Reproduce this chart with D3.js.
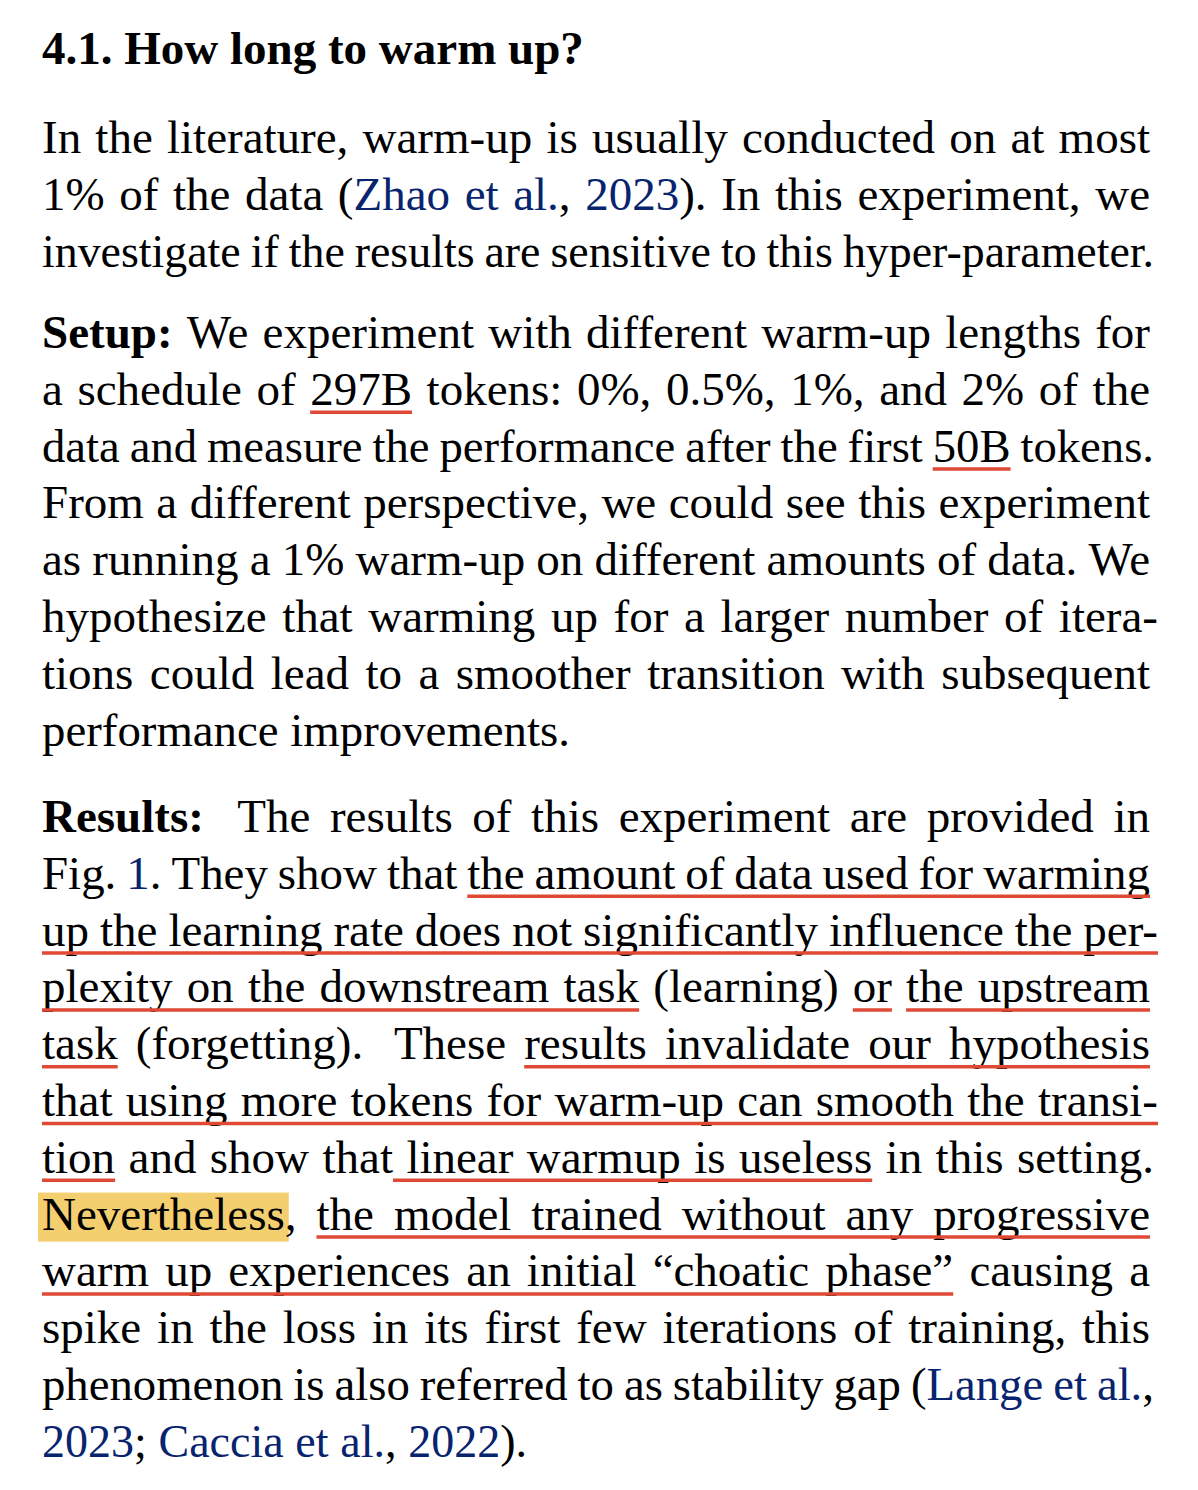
<!DOCTYPE html>
<html>
<head>
<meta charset="utf-8">
<script src="https://cdn.jsdelivr.net/npm/d3@7"></script>
<style>
  html, body { margin: 0; padding: 0; background: #ffffff; }
  svg { display: block; }
</style>
</head>
<body>
<script>
// ---------- Content (text lines with style flags: b=bold, l=link, u=underline, h=highlight) ----------
const headingText = "4.1. How long to warm up?";

const para1Lines = [
  [["In the literature, warm-up is usually conducted on at most", ""]],
  [["1% of the data (", ""], ["Zhao et al.", "l"], [", ", ""], ["2023", "l"], ["). In this experiment, we", ""]],
  [["investigate if the results are sensitive to this hyper-parameter.", ""]]
];

const para2Lines = [
  [["Setup:", "b"], [" We experiment with different warm-up lengths for", ""]],
  [["a schedule of ", ""], ["297B", "u"], [" tokens: 0%, 0.5%, 1%, and 2% of the", ""]],
  [["data and measure the performance after the first ", ""], ["50B", "u"], [" tokens.", ""]],
  [["From a different perspective, we could see this experiment", ""]],
  [["as running a 1% warm-up on different amounts of data. We", ""]],
  [["hypothesize that warming up for a larger number of itera-", ""]],
  [["tions could lead to a smoother transition with subsequent", ""]],
  [["performance improvements.", ""]]
];

const para3Lines = [
  [["Results:", "b"], ["  The results of this experiment are provided in", ""]],
  [["Fig. ", ""], ["1", "l"], [". They show that ", ""], ["the amount of data used for warming", "u"]],
  [["up the learning rate does not significantly influence the per-", "u"]],
  [["plexity on the downstream task", "u"], [" (learning) ", ""], ["or", "u"], [" ", ""], ["the upstream", "u"]],
  [["task", "u"], [" (forgetting).  These ", ""], ["results invalidate our hypothesis", "u"]],
  [["that using more tokens for warm-up can smooth the transi-", "u"]],
  [["tion", "u"], [" and show that", ""], [" linear warmup is useless", "u"], [" in this setting.", ""]],
  [["Nevertheless", "h"], [", ", ""], ["the model trained without any progressive", "u"]],
  [["warm up experiences an initial \u201Cchoatic phase\u201D", "u"], [" causing a", ""]],
  [["spike in the loss in its first few iterations of training, this", ""]],
  [["phenomenon is also referred to as stability gap (", ""], ["Lange et al.", "l"], [",", ""]],
  [["2023", "l"], ["; ", ""], ["Caccia et al.", "l"], [", ", ""], ["2022", "l"], [").", ""]]
];

const paragraphs = [para1Lines, para2Lines, para3Lines];
const justifyLastLine = [true, false, false];
const paragraphBaselines = [153, 348, 832];

// ---------- Layout constants ----------
const W = 1198, H = 1490;
const left = 42, right = 1150;
const lineHeight = 56.8;
const bodySize = 47, headingSize = 47;
const fontFamily = "'Liberation Serif', 'Times New Roman', Times, serif";
const colors = { text: "#000000", link: "#08246f", underline: "#e04a34", highlight: "#f4cf6f" };

const svg = d3.select("body").append("svg").attr("width", W).attr("height", H);
svg.append("rect").attr("width", W).attr("height", H).attr("fill", "#ffffff");

const gHi = svg.append("g");
const gText = svg.append("g").attr("font-family", fontFamily);
const gUl = svg.append("g");

const meas = svg.append("text").attr("font-family", fontFamily).attr("font-size", bodySize)
  .attr("visibility", "hidden").attr("x", 0).attr("y", -100);
function textWidth(t, bold) {
  meas.attr("font-weight", bold ? "bold" : "normal").text(t);
  return meas.node().getComputedTextLength();
}
const spaceW = textWidth("a a") - 2 * textWidth("a");
const minSpace = 0.85 * spaceW;

// Heading
gText.append("text")
  .attr("x", left).attr("y", 64)
  .attr("font-size", headingSize).attr("font-weight", "bold")
  .attr("fill", colors.text)
  .text(headingText);

function layoutLine(segs, baseline, justify, maxRight) {
  const items = [];
  segs.forEach(([txt, st]) => {
    txt.split(/( +)/).forEach(p => {
      if (p === "") return;
      if (/^ +$/.test(p)) items.push({ sp: true, n: p.length, st });
      else items.push({ sp: false, t: p, st, w: textWidth(p, st.includes("b")) });
    });
  });
  const words = items.filter(d => !d.sp);
  const wordsW = d3.sum(words, d => d.w);
  const spaces = items.filter(d => d.sp);
  spaces.forEach(s => { s.weight = s.n > 1 ? 1.7 : 1; });
  const totalWeight = d3.sum(spaces, d => d.weight);
  const lastWord = words.slice(-1)[0];
  const lastChar = lastWord ? lastWord.t.slice(-1) : "";
  const protrude = lastChar === "-" ? 8 : (lastChar === "." || lastChar === ",") ? 4 : 0;
  const avail = right + protrude - left;
  let unit = spaceW;
  let scale = 1;
  if (justify && totalWeight > 0) {
    unit = (avail - wordsW) / totalWeight;
    if (unit < minSpace) {
      unit = minSpace;
      scale = (avail - unit * totalWeight) / wordsW;
    }
  } else if (maxRight && left + wordsW + unit * totalWeight > maxRight) {
    scale = (maxRight - left - unit * totalWeight) / wordsW;
  }
  words.forEach(d => { d.dw = d.w * scale; });

  let x = left;
  items.forEach(d => {
    d.x0 = x;
    if (d.sp) x += unit * d.weight; else x += d.dw;
    d.x1 = x;
  });

  // highlight
  words.filter(d => d.st.includes("h")).forEach(d => {
    gHi.append("rect")
      .attr("x", d.x0 - 4).attr("y", baseline - 37)
      .attr("width", d.dw + 8).attr("height", 49)
      .attr("fill", colors.highlight);
  });

  // words
  const t = gText.selectAll(null).data(words).enter()
    .append("text")
    .attr("x", d => d.x0).attr("y", baseline)
    .attr("font-size", bodySize)
    .attr("font-weight", d => d.st.includes("b") ? "bold" : "normal")
    .attr("fill", d => d.st.includes("l") ? colors.link : colors.text)
    .text(d => d.t);
  if (scale !== 1) {
    t.attr("textLength", d => d.dw).attr("lengthAdjust", "spacingAndGlyphs");
  }

  // underline runs
  let run = null;
  const runs = [];
  items.forEach(d => {
    if (d.st.includes("u")) {
      if (!run) { run = { x0: d.x0, x1: d.x1 }; runs.push(run); }
      else run.x1 = d.x1;
    } else run = null;
  });
  runs.forEach(r => {
    gUl.append("line")
      .attr("x1", r.x0).attr("x2", r.x1)
      .attr("y1", baseline + 7.5).attr("y2", baseline + 7.5)
      .attr("stroke", colors.underline).attr("stroke-width", 3.5);
  });
}

const lastLineRight = [null, 570, 527];
paragraphs.forEach((lines, pi) => {
  lines.forEach((segs, li) => {
    const isLast = li === lines.length - 1;
    const justify = !isLast || justifyLastLine[pi];
    layoutLine(segs, paragraphBaselines[pi] + li * lineHeight, justify, isLast ? lastLineRight[pi] : null);
  });
});
meas.remove();
</script>
</body>
</html>
